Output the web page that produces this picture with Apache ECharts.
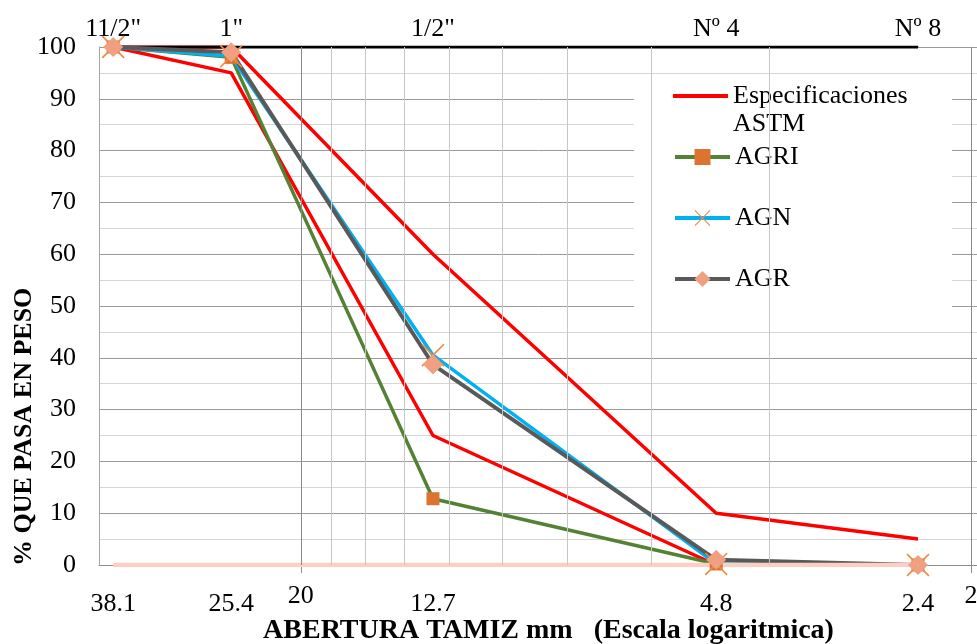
<!DOCTYPE html>
<html>
<head>
<meta charset="utf-8">
<script src="https://cdn.jsdelivr.net/npm/echarts@6/dist/echarts.min.js"></script>
<style>
  html, body { margin: 0; padding: 0; background: #ffffff; }
  #chart { width: 977px; height: 644px; }
</style>
</head>
<body>
<div id="chart"></div>
<script>
// Sieve openings (mm) and sieve names
const aberturas = [38.1, 25.4, 12.7, 4.8, 2.4];
const tamices = ['11/2"', '1"', '1/2"', 'Nº 4', 'Nº 8'];

// % passing by weight
const astmSuperior = [100, 100, 60, 10, 5];
const astmInferior = [100, 95, 25, 0, 0];
const agri = [100, 98, 12.8, 0.2, 0];
const agn = [100, 98.2, 40.5, 0.2, 0];
const agr = [100, 99, 38.7, 1, 0];

// Reference lines carrying the sieve names (top) and openings (bottom)
const lineaTamices = [100, 100, 100, 100, 100];
const lineaAberturas = [0, 0, 0, 0, 0];

// Log-axis labels and vertical grid values
const ejeXEtiquetas = [20, 2];
const rejillaMayor = [20, 2];
const rejillaMenor = [18, 16, 14, 12, 10, 8, 6, 4];

const FONT = 'Liberation Serif';

function pares(vals) {
  return aberturas.map((x, i) => [x, vals[i]]);
}

const simboloX = 'path://M0,1L1,0L10,9L19,0L20,1L11,10L20,19L19,20L10,11L1,20L0,19L9,10Z';

const chart = echarts.init(document.getElementById('chart'), null, { renderer: 'canvas' });

const option = {
  animation: false,
  backgroundColor: '#ffffff',
  textStyle: { fontFamily: FONT },
  grid: { left: 99, top: 47, right: -9, bottom: 79, containLabel: false, outerBoundsMode: 'none' },
  xAxis: {
    type: 'log',
    logBase: 10,
    inverse: true,
    min: 1.9,
    max: 40,
    name: 'ABERTURA TAMIZ mm   (Escala logaritmica)',
    nameLocation: 'middle',
    nameGap: 52,
    nameTextStyle: { fontFamily: FONT, fontSize: 28, fontWeight: 'bold', color: '#000', padding: [0, 0, 0, 12] },
    axisLine: { show: true, lineStyle: { color: '#8c8c8c', width: 1 } },
    axisTick: { show: true, customValues: ejeXEtiquetas, length: 8, lineStyle: { color: '#8c8c8c' } },
    axisLabel: {
      show: true,
      customValues: ejeXEtiquetas,
      margin: 18,
      fontFamily: FONT,
      fontSize: 26,
      color: '#000'
    },
    splitLine: { show: false },
    minorTick: { show: false },
    minorSplitLine: { show: false }
  },
  yAxis: {
    type: 'value',
    min: 0,
    max: 100,
    interval: 10,
    axisLine: { show: true, lineStyle: { color: '#a6a6a6', width: 1 } },
    axisTick: { show: false },
    axisLabel: { margin: 23, fontFamily: FONT, fontSize: 26, color: '#000' },
    splitLine: { show: true, lineStyle: { color: '#9a9a9a', width: 1 } },
    minorTick: { show: false, splitNumber: 2 },
    minorSplitLine: { show: true, lineStyle: { color: '#d6d6d6', width: 1 } }
  },
  legend: [
    {
      data: [{ name: 'Especificaciones ASTM', icon: 'rect' }],
      orient: 'vertical',
      left: 673,
      top: 54,
      padding: 0,
      itemWidth: 55,
      itemHeight: 4,
      selectedMode: false,
      formatter: () => '\nEspecificaciones\nASTM',
      textStyle: { fontFamily: FONT, fontSize: 26, color: '#000', lineHeight: 28 }
    },
    {
      data: ['AGRI', 'AGN', 'AGR'],
      orient: 'vertical',
      left: 673,
      top: 143,
      padding: 0,
      itemGap: 33,
      itemWidth: 55,
      itemHeight: 20,
      selectedMode: false,
      lineStyle: { width: 4 },
      textStyle: { fontFamily: FONT, fontSize: 26, color: '#000', lineHeight: 28 }
    }
  ],
  graphic: [
    {
      type: 'rect',
      z: 3,
      shape: { x: 634, y: 76, width: 318, height: 246 },
      style: { fill: '#ffffff' }
    },
    {
      type: 'text',
      x: 24,
      y: 566,
      rotation: Math.PI / 2,
      style: {
        text: '% QUE PASA EN PESO',
        font: 'bold 26px "Liberation Serif"',
        fill: '#000',
        align: 'left',
        verticalAlign: 'middle'
      }
    }
  ],
  series: [
    {
      name: 'rejilla',
      type: 'line',
      z: 1,
      data: [],
      silent: true,
      markLine: {
        silent: true,
        symbol: ['none', 'none'],
        label: { show: false },
        animation: false,
        data: rejillaMenor.map(v => ({ xAxis: v, lineStyle: { color: '#c6c6c6', width: 1, type: 'solid' } }))
          .concat(rejillaMayor.map(v => ({ xAxis: v, lineStyle: { color: '#8a8a8a', width: 1, type: 'solid' } })))
      }
    },
    {
      name: 'Especificaciones ASTM',
      type: 'line',
      z: 2,
      data: pares(astmSuperior),
      symbol: 'none',
      lineStyle: { color: '#ff0000', width: 3.5 },
      itemStyle: { color: '#ff0000' }
    },
    {
      name: 'Especificaciones ASTM',
      type: 'line',
      z: 2,
      data: pares(astmInferior),
      symbol: 'none',
      lineStyle: { color: '#ff0000', width: 3.5 },
      itemStyle: { color: '#ff0000' }
    },
    {
      name: 'tamices',
      type: 'line',
      z: 2,
      data: pares(lineaTamices),
      symbol: 'circle',
      symbolSize: 1,
      lineStyle: { color: '#000000', width: 3 },
      itemStyle: { color: '#000000' },
      label: {
        show: true,
        position: 'top',
        distance: 4,
        fontFamily: FONT,
        fontSize: 26,
        color: '#000',
        formatter: p => tamices[p.dataIndex]
      }
    },
    {
      name: 'AGRI',
      type: 'line',
      z: 3,
      data: pares(agri),
      symbol: 'rect',
      symbolSize: 13,
      lineStyle: { color: '#548235', width: 3.5 },
      itemStyle: { color: '#dc7430' }
    },
    {
      name: 'AGN',
      type: 'line',
      z: 3,
      data: pares(agn),
      symbol: simboloX,
      symbolSize: 23,
      lineStyle: { color: '#00b0f0', width: 3.5 },
      itemStyle: { color: '#ee8a45' }
    },
    {
      name: 'AGR',
      type: 'line',
      z: 3,
      data: pares(agr),
      symbol: 'diamond',
      symbolSize: 20,
      lineStyle: { color: '#595959', width: 4 },
      itemStyle: { color: '#f0a080' }
    },
    {
      name: 'aberturas',
      type: 'line',
      z: 3,
      data: pares(lineaAberturas),
      symbol: 'circle',
      symbolSize: 1,
      lineStyle: { color: '#fbcfc3', width: 4.5 },
      itemStyle: { color: '#fbcfc3' },
      label: {
        show: true,
        position: 'bottom',
        distance: 26,
        fontFamily: FONT,
        fontSize: 26,
        color: '#000',
        formatter: p => String(p.value[0])
      }
    }
  ]
};

chart.setOption(option);
</script>
</body>
</html>
